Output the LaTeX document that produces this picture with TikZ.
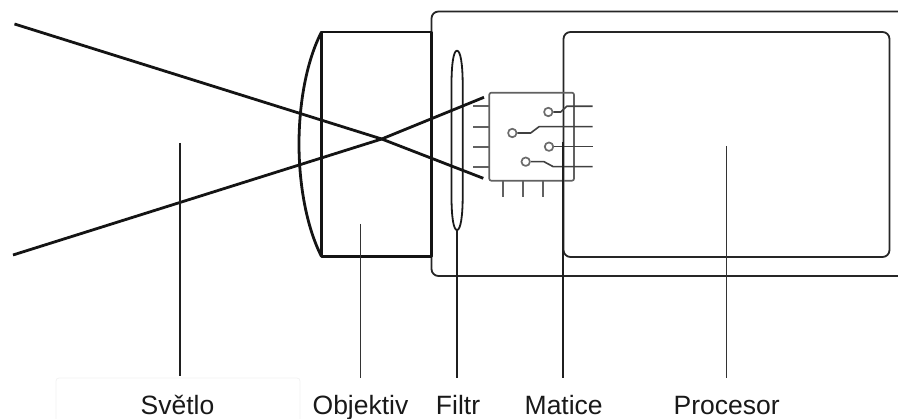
\documentclass[tikz,border=0pt]{standalone}
\usepackage{fontspec}
\setmainfont{Liberation Sans}
\begin{document}
\begin{tikzpicture}[x=1pt,y=-1pt,line join=round,
  thick line/.style={line width=2.8pt,draw=black!92},
  frame line/.style={line width=1.8pt,draw=black!85},
  leader/.style={line width=1.7pt,draw=black!88},
  thin leader/.style={line width=1.3pt,draw=black!80},
  chip line/.style={line width=1.7pt,draw=black!62},
  chip wire/.style={line width=1.6pt,draw=black!75},
  pin/.style={circle,draw=black!58,line width=1.7pt,fill=white,inner sep=0pt,minimum size=8.5pt},
  label/.style={font=\fontsize{26.5}{30}\selectfont,anchor=base,text=black!90,inner sep=0pt}]
\useasboundingbox (0,0) rectangle (898,419);
% faint patch behind the label
\draw[black!5,line width=.8pt,rounded corners=3pt] (56,419) -- (56,378) -- (300,378) -- (300,419);
% outer body, open at the right edge
\draw[frame line,rounded corners=7pt] (898,11.5) -- (431.5,11.5) -- (431.5,276) -- (898,276);
% processor
\draw[frame line,rounded corners=7pt] (563.5,32) rectangle (889.5,257);
% lens and barrel
\coordinate (lt) at (321.5,32);
\coordinate (lb) at (321.5,256.5);
\coordinate (bt) at (431.5,32);
\coordinate (bb) at (431.5,256.5);
\draw[thick line] (lt) -- (bt) -- (bb) -- (lb) -- cycle;
\draw[thick line] (lt) .. controls (306,62) and (299,105) .. (299,144) .. controls (299,183) and (306,226) .. (lb);
% filter
\coordinate (filtertop) at (457,50.7);
\coordinate (filterbot) at (457,230);
\draw[line width=1.8pt,draw=black!90] (filtertop) .. controls (460.5,50.7) and (462.7,64) .. (462.7,85) -- (462.7,196) .. controls (462.7,217) and (460.5,230) .. (filterbot) .. controls (453.5,230) and (451.5,217) .. (451.5,196) -- (451.5,85) .. controls (451.5,64) and (453.5,50.7) .. (filtertop) -- cycle;
% chip pins
\foreach \py in {106.3,126.7,146.7,166.7} \draw[chip line] (473,\py) -- (489.3,\py);
\foreach \px in {503.3,523.3,543.3} \draw[chip line] (\px,180.7) -- (\px,196.7);
\draw[chip line,rounded corners=2pt] (489.3,92.7) rectangle (574,180.7);
% chip wires
\node[pin] (p1) at (548.3,112) {};
\node[pin] (p2) at (512.3,133) {};
\node[pin] (p3) at (549,146.7) {};
\node[pin] (p4) at (525.7,161.7) {};
\coordinate (e1) at (592.7,106.3);
\coordinate (e2) at (592.7,126.7);
\coordinate (e3) at (592.7,146.7);
\coordinate (e4) at (592.7,166.7);
\draw[chip wire] (p1) -- (560.7,112) -- (566.7,106.3) -- (e1);
\draw[chip wire] (p2) -- (530.7,133) -- (539,126.7) -- (e2);
\draw[chip wire] (p3) -- (e3);
\draw[chip wire] (p4) -- (544,161.7) -- (553.3,166.7) -- (e4);
% light rays, which bend where they cross
\coordinate (r1a) at (14.5,24);
\coordinate (r1b) at (483.3,178.3);
\coordinate (r2a) at (13,255);
\coordinate (r2b) at (484,97.3);
\coordinate (rx) at (381.7,139);
\draw[thick line] (r1a) -- (rx) -- (r1b);
\draw[thick line] (r2a) -- (rx) -- (r2b);
% labels
\node[label] (svetlo) at (177.5,414.5) {Světlo};
\node[label] (objektiv) at (360.5,414.5) {Objektiv};
\node[label] (filtr) at (458,414.5) {Filtr};
\node[label] (matice) at (563.7,414.5) {Matice};
\node[label] (procesor) at (726.7,414.5) {Procesor};
% leaders
\coordinate (ls) at (180,143);
\coordinate (lo) at (360.5,224);
\coordinate (lm) at (563,141.7);
\coordinate (lp) at (726.5,146);
\draw[leader] (ls) -- (180,376);
\draw[thin leader] (lo) -- (360.5,378);
\draw[leader] (filterbot) -- (457,378);
\draw[leader] (lm) -- (563,378);
\draw[thin leader] (lp) -- (726.5,378);
\end{tikzpicture}
\end{document}
